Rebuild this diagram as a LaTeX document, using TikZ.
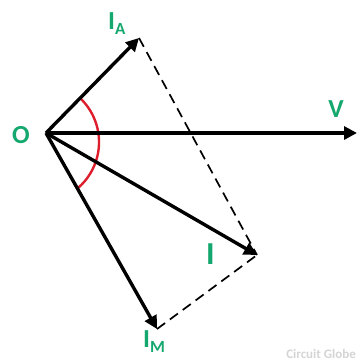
\documentclass[tikz,border=0pt]{standalone}
\usepackage{fontspec}
\setmainfont{Carlito}
\usetikzlibrary{arrows.meta}
\definecolor{lblgreen}{RGB}{20,168,110}
\definecolor{arcred}{RGB}{222,30,45}
\definecolor{wmgray}{RGB}{212,212,212}
\tikzset{
  phasor/.style={line width=3.4pt, -{Triangle[length=13pt,width=13pt]}},
  proj/.style={line width=1.7pt, dash pattern=on 10pt off 6pt},
  lbl/.style={text=lblgreen, font=\bfseries\fontsize{26}{26}\selectfont, inner sep=0pt},
  anglearc/.style={draw=arcred, line width=2.4pt}
}
\newcommand{\subtxt}[1]{\raisebox{-5pt}{\fontsize{17}{17}\selectfont #1}}
\begin{document}
\begin{tikzpicture}[x=1pt,y=-1pt]
\useasboundingbox (0,0) rectangle (358,362);
\coordinate (O) at (46,133);
\coordinate (IA) at (139,38);
\coordinate (V) at (357,133);
\coordinate (I) at (257,255);
\coordinate (IM) at (157,329);
\coordinate (arcstart) at (80,98);
% angle arc
\draw[anglearc] (arcstart) arc[start angle=-46.7, end angle=49.2, radius=60.6];
% dashed lines
\draw[proj] (IA) -- (I);
\draw[proj] (IM) -- (I);
% phasors
\draw[phasor] (O) -- (IA);
\draw[phasor] (O) -- (V);
\draw[phasor] (O) -- (I);
\draw[phasor] (O) -- (IM);
% labels
\node[lbl] (lO) at (21,135) {O};
\node[lbl, anchor=base west] (lIA) at (108,29) {I\subtxt{A}};
\node[lbl] (lV) at (336,109) {V};
\node[lbl, font=\bfseries\fontsize{32}{32}\selectfont] (lI) at (210.5,254) {I};
\node[lbl, anchor=base west] (lIM) at (143,347) {I\subtxt{M}};
% watermark
\node[text=wmgray, font=\bfseries\fontsize{13}{13}\selectfont, anchor=base east, inner sep=0pt] (wm) at (356,358) {Circuit Globe};
\end{tikzpicture}
\end{document}
